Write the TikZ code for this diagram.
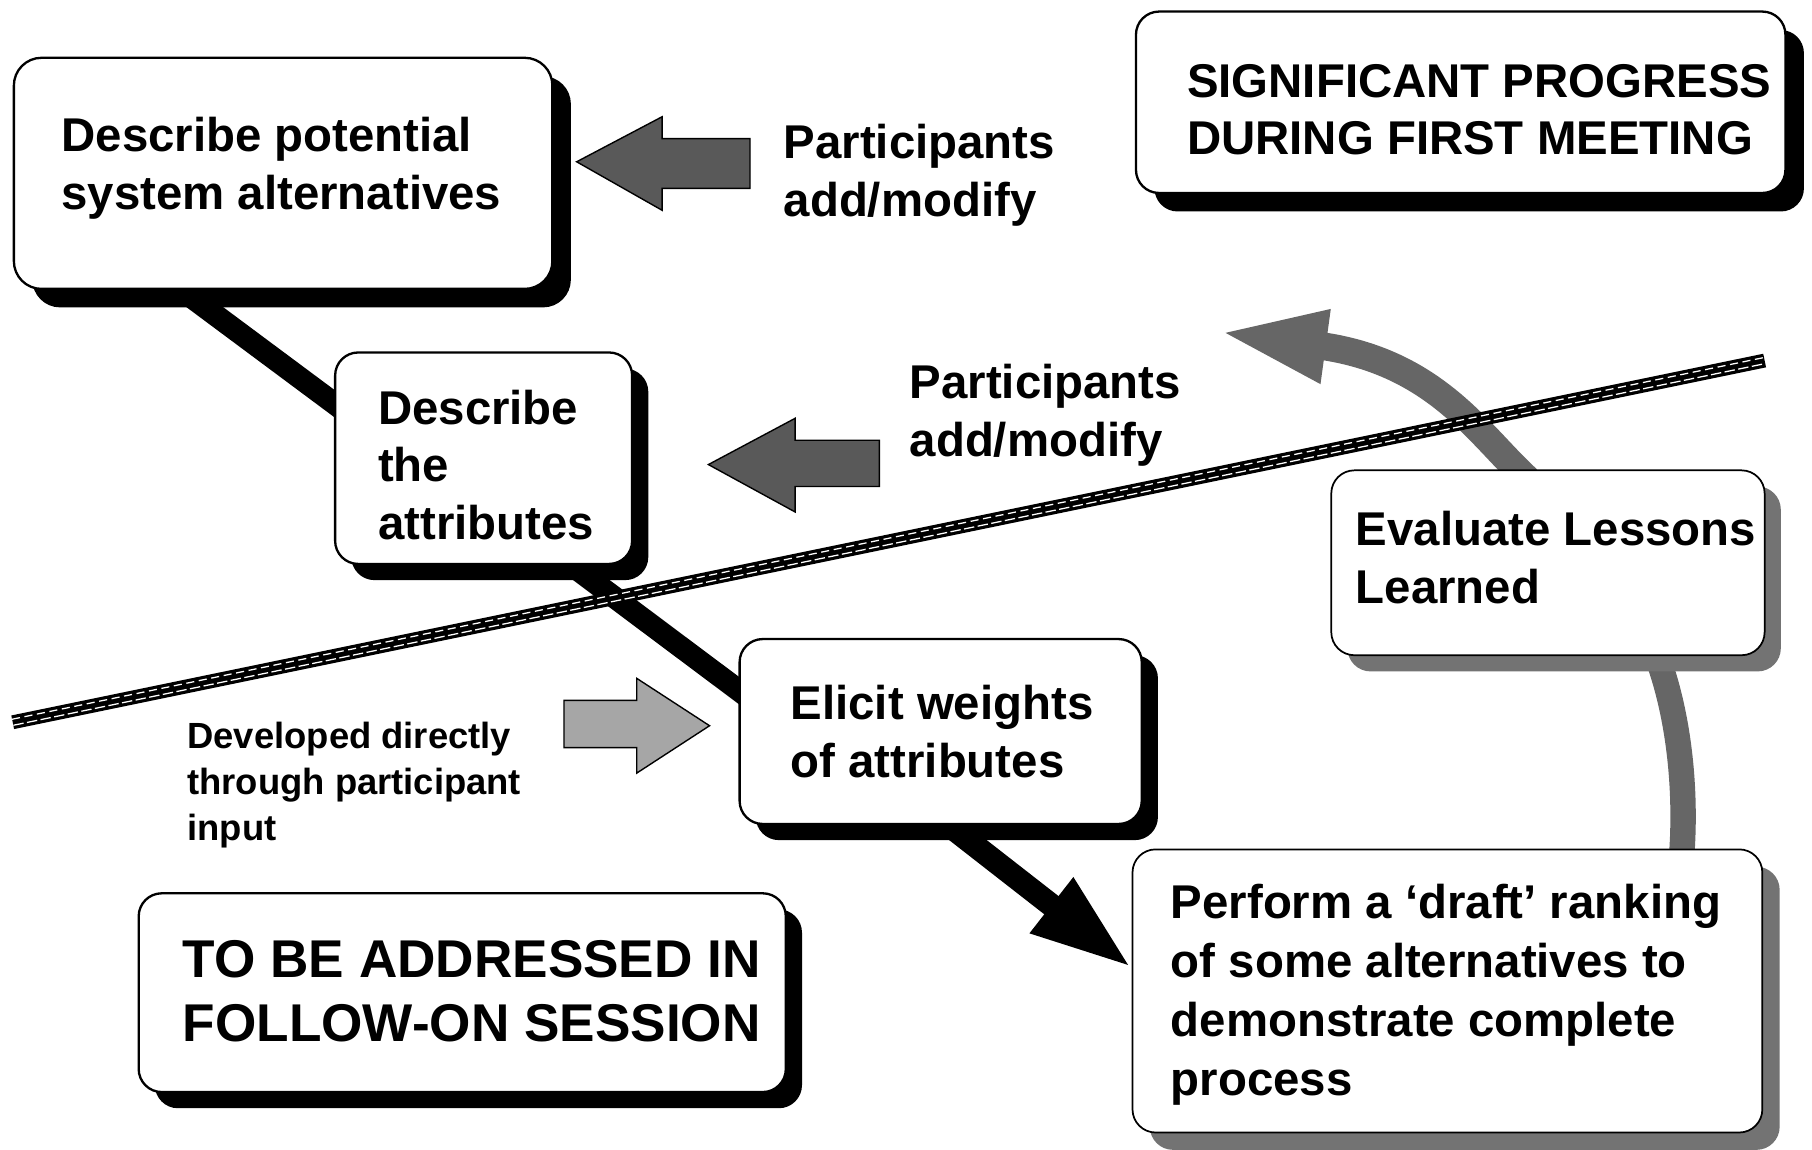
\documentclass[tikz,border=0pt]{standalone}
\usepackage{fontspec}
\setmainfont{Liberation Sans}
\usetikzlibrary{shadows,arrows.meta,calc}
\begin{document}
\begin{tikzpicture}[x=1pt,y=-1pt,
  box/.style={draw=black, line width=2pt, rounded corners=20pt, fill=white, inner sep=0pt, outer sep=0pt},
  shk/.style={drop shadow={shadow xshift=#1, shadow yshift=-#1, fill=black, opacity=1}},
  shg/.style={drop shadow={shadow xshift=#1, shadow yshift=-#1, fill=black!55, opacity=1}},
  txt/.style={anchor=base west, inner sep=0pt, font=\fontsize{41}{50}\selectfont\bfseries},
  bconn/.style={line width=19pt, black},
  gconn/.style={line width=22pt, black!60},
  blockarrow/.style={draw=black, line width=1.2pt, line join=miter, fill=black!65},
  lightarrow/.style={draw=black, line width=1.2pt, line join=miter, fill=black!35}
]
\useasboundingbox (0,0) rectangle (1568,995);
\fill[white] (0,0) rectangle (1568,995);

% boxes positions (drawn later) - define via nodes
\path (245,150) node[minimum width=466pt, minimum height=200pt, inner sep=0pt, outer sep=0pt] (B1) {};
\path (418.5,396.5) node[minimum width=257pt, minimum height=183pt, inner sep=0pt, outer sep=0pt] (B2) {};
\path (814,633) node[minimum width=348pt, minimum height=160pt, inner sep=0pt, outer sep=0pt] (B3) {};
\path (400,859) node[minimum width=560pt, minimum height=172pt, inner sep=0pt, outer sep=0pt] (B4) {};
\path (1252.5,857.5) node[minimum width=545pt, minimum height=245pt, inner sep=0pt, outer sep=0pt] (B5) {};
\path (1339.5,487) node[minimum width=375pt, minimum height=160pt, inner sep=0pt, outer sep=0pt] (B6) {};
\path (1264,88.5) node[minimum width=562pt, minimum height=157pt, inner sep=0pt, outer sep=0pt] (B7) {};

% connectors
\draw[bconn] ([xshift=-89pt]B1.south) -- ([xshift=30pt,yshift=24.5pt]B2.west);
\draw[bconn] ([xshift=50.5pt,yshift=18pt]B2.south) -- ([xshift=30pt,yshift=12.6pt]B3.west);
\draw[line width=20pt, black, -{Triangle[length=89pt,width=55pt]}]
  ([xshift=-11pt,yshift=13pt]B3.south) -- ([yshift=19.5pt]B5.west);
\draw[gconn] ([xshift=202.5pt,yshift=-8pt]B5.north) .. controls (1460,680) and (1452,610) .. ([xshift=90pt,yshift=10pt]B6.south);
\coordinate (g2tip) at (1053,287);
\draw[line width=24pt, black!60, -{Triangle[length=95pt,width=57pt]}]
  ([xshift=-17.5pt,yshift=-8pt]B6.north) .. controls (1281,378) and (1243,313) .. (g2tip);

% diagonal barrier line
\coordinate (d1) at (11,625);
\coordinate (d2) at (1527,312);
\draw[line width=12pt, black] (d1) -- (d2);
\draw[white, line width=1.1pt, dash pattern=on 9pt off 3pt] ([shift={(0.6,2.6)}]d1) -- ([shift={(0.6,2.6)}]d2);
\draw[white, line width=1.1pt, dash pattern=on 7pt off 4pt] ([shift={(-0.6,-2.6)}]d1) -- ([shift={(-0.6,-2.6)}]d2);

% boxes
\node[box, shk=16pt, minimum width=466pt, minimum height=200pt, rounded corners=24pt] (box1) at (B1) {};
\node[box, shk=14pt, minimum width=257pt, minimum height=183pt] (box2) at (B2) {};
\node[box, shk=14pt, minimum width=348pt, minimum height=160pt] (box3) at (B3) {};
\node[box, shk=14pt, minimum width=560pt, minimum height=172pt] (box4) at (B4) {};
\node[box, shg=15pt, line width=1.5pt, minimum width=545pt, minimum height=245pt] (box5) at (B5) {};
\node[box, shg=14pt, line width=1.5pt, minimum width=375pt, minimum height=160pt] (box6) at (B6) {};
\node[box, shk=16pt, minimum width=562pt, minimum height=157pt] (box7) at (B7) {};

% block arrows
\draw[blockarrow] (499,140) -- (573,101) -- (573,120) -- (649,120) -- (649,163) -- (573,163) -- (573,182) -- cycle;
\draw[blockarrow] (613,402) -- (688,362) -- (688,381) -- (761,381) -- (761,421) -- (688,421) -- (688,443) -- cycle;
\draw[lightarrow] (614,628) -- (551,587) -- (551,606) -- (488,606) -- (488,647) -- (551,647) -- (551,669) -- cycle;

% texts
\node[txt] (t1) at (53,131) {\vtop{\hbox{Describe potential}\hbox{system alternatives}}};
\node[txt] (p1) at (678,137) {\vtop{\hbox{Participants}\hbox{add/modify}}};
\node[txt] (t7) at (1027,84) {\vtop{\hbox{SIGNIFICANT PROGRESS}\hbox{DURING FIRST MEETING}}};
\node[txt] (t2) at (327,367) {\vtop{\hbox{Describe}\hbox{the}\hbox{attributes}}};
\node[txt] (p2) at (787,345) {\vtop{\hbox{Participants}\hbox{add/modify}}};
\node[txt] (t6) at (1173,472) {\vtop{\hbox{Evaluate Lessons}\hbox{Learned}}};
\node[txt, font=\fontsize{31.5}{39.5}\selectfont\bfseries] (t8) at (162,648) {\vtop{\hbox{Developed directly}\hbox{through participant}\hbox{input}}};
\node[txt] (t3) at (684,623) {\vtop{\hbox{Elicit weights}\hbox{of attributes}}};
\node[txt, font=\fontsize{46}{55.5}\selectfont\bfseries] (t4) at (158,846) {\vtop{\hbox{TO BE ADDRESSED IN}\hbox{FOLLOW-ON SESSION}}};
\node[txt, font=\fontsize{41}{51}\selectfont\bfseries] (t5) at (1013,795) {\vtop{\hbox{Perform a ‘draft’ ranking}\hbox{of some alternatives to}\hbox{demonstrate complete}\hbox{process}}};
\end{tikzpicture}
\end{document}
